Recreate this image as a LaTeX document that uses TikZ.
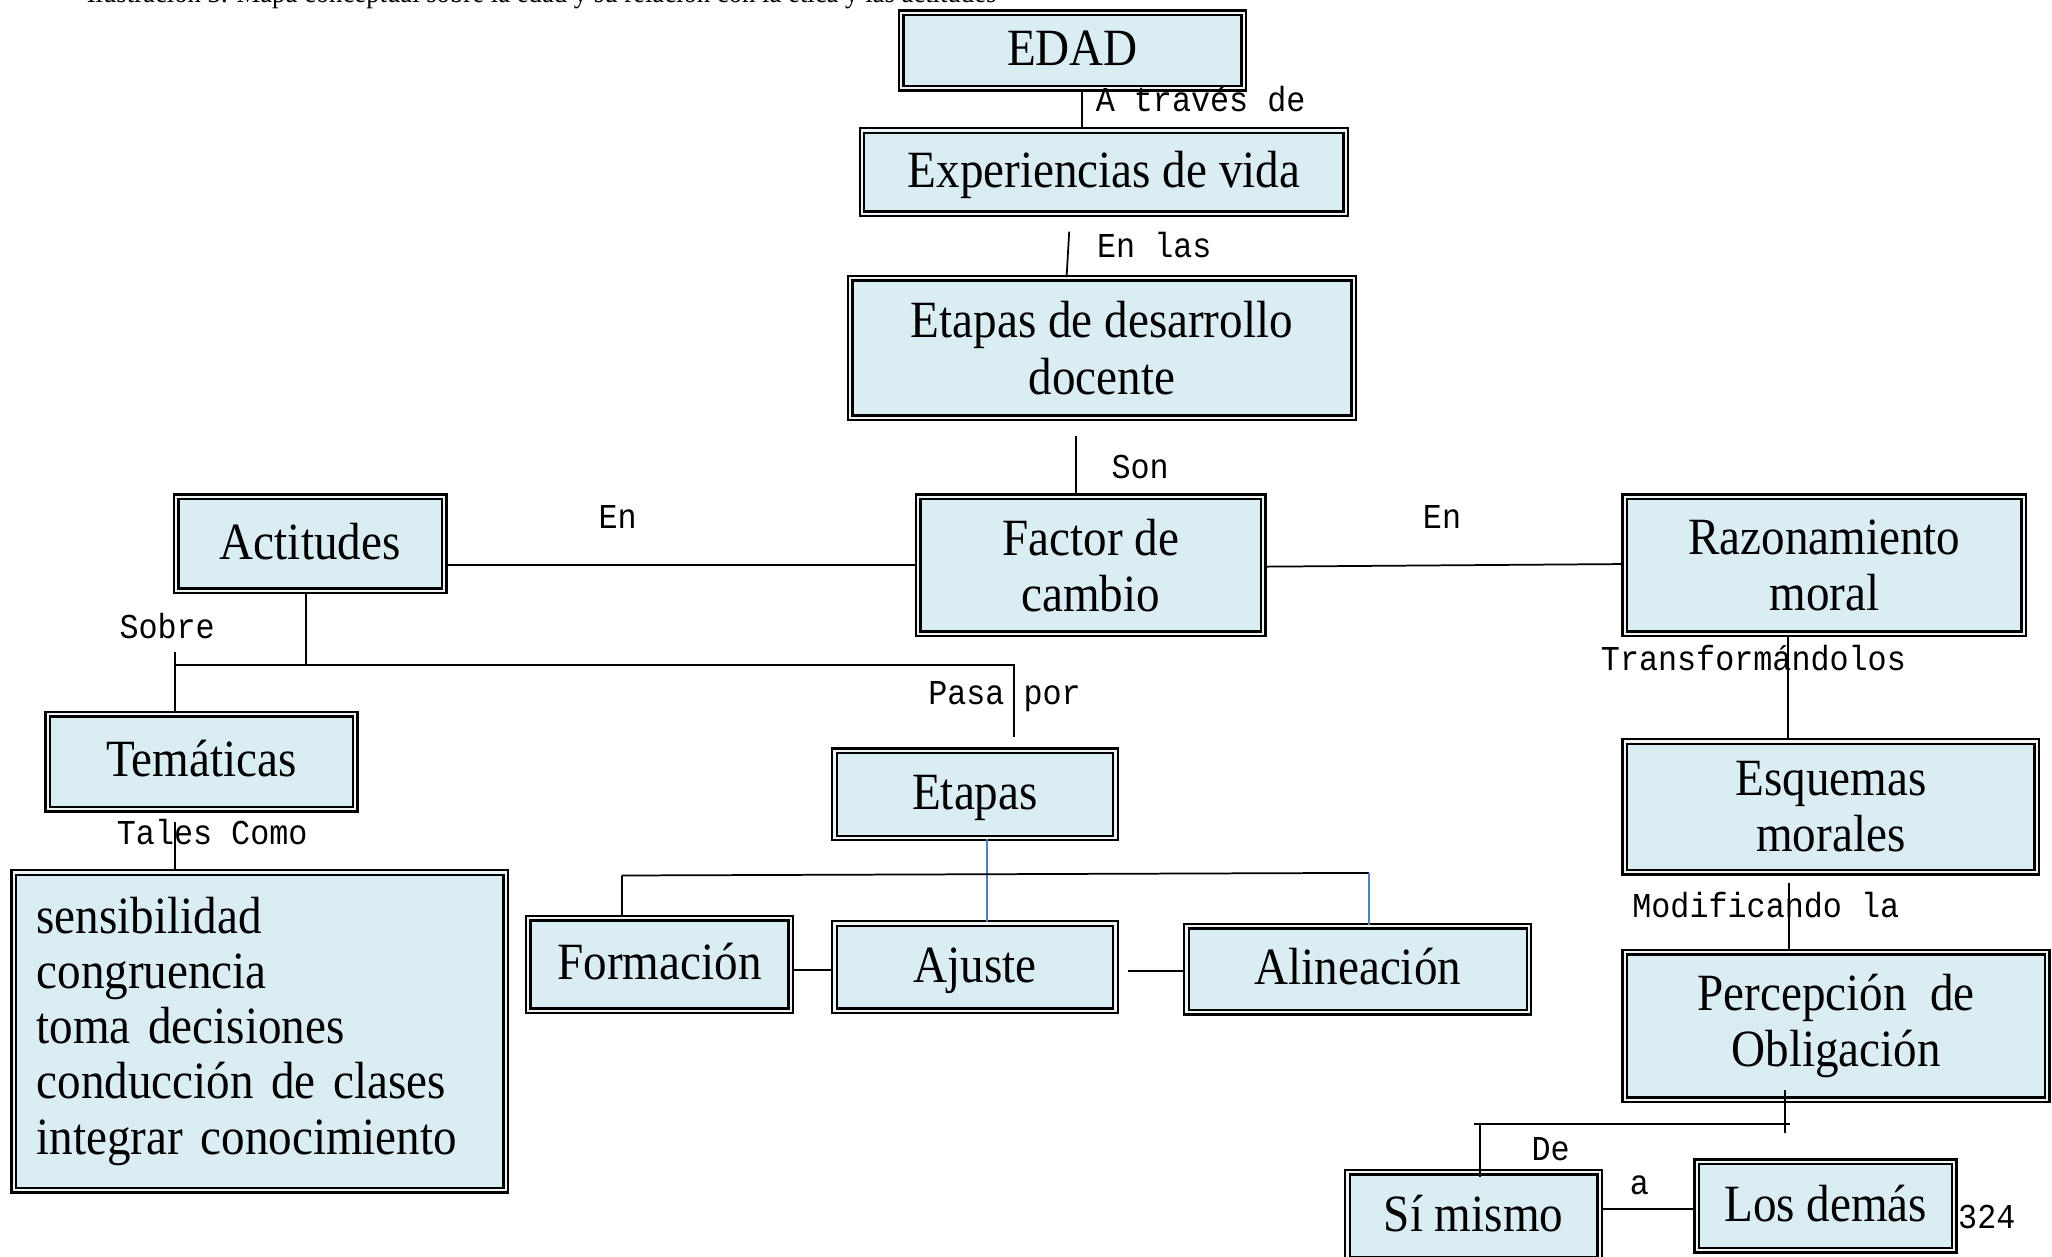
\documentclass[tikz,border=0pt]{standalone}
\usepackage{fontspec}
\setmainfont{Liberation Serif}[FakeStretch=0.9]
\setmonofont{Liberation Mono}[FakeStretch=0.91]
\definecolor{boxfill}{HTML}{DAEDF3}
\definecolor{gapfill}{HTML}{EEF5F7}
\definecolor{linkblue}{HTML}{4F81BD}

\tikzset{
  concept/.style={draw=black, line width=1.1pt, double=gapfill, double distance=1pt,
    fill=boxfill, inner sep=0pt, align=center,
    font=\fontsize{24}{25.8}\selectfont},
  oneline/.style={text height=20pt, text depth=6pt},
  boxsize/.style 2 args={minimum width=#1*0.6pt-3.2pt, minimum height=#2*0.6pt-3.2pt},
  conn/.style={draw=black, line width=0.8pt},
  blueconn/.style={draw=linkblue, line width=0.7pt},
  lbl/.style={font=\ttfamily\fontsize{16}{18}\selectfont, inner sep=0pt, anchor=base west},
}

\begin{document}
\begin{tikzpicture}[x=0.6pt, y=-0.6pt]
\useasboundingbox (0,0) rectangle (1568,960);

% caption line, partly above the page edge
\node[anchor=base west, inner sep=0pt, font=\fontsize{13.6}{15}\selectfont] (cap) at (66,2)
  {Ilustración 3. Mapa conceptual sobre la edad y su relación con la ética y las actitudes};

% concept boxes
\node[concept, oneline, boxsize={267}{63}]  (edad) at (819.5,38.5) {EDAD};
\node[concept, oneline, boxsize={375}{69}]  (exp)  at (843.5,131.5) {Experiencias de vida};
\node[concept, boxsize={390}{112}] (etd)  at (842,266) {Etapas de desarrollo\\docente};
\node[concept, oneline, boxsize={210}{77}]  (act)  at (237,415.5) {Actitudes};
\node[concept, boxsize={269}{110}] (fac)  at (833.5,432) {Factor de\\cambio};
\node[concept, boxsize={310}{110}] (raz)  at (1394,432) {Razonamiento\\moral};
\node[concept, oneline, boxsize={240}{78}]  (tem)  at (154,582) {Temáticas};
\node[concept, oneline, boxsize={220}{72}]  (eta)  at (745,607) {Etapas};
\node[concept, boxsize={320}{105}] (esq)  at (1399,616.5) {Esquemas\\morales};
\node[concept, oneline, boxsize={206}{76}]  (for)  at (504,737) {Formación};
\node[concept, oneline, boxsize={220}{72}]  (aju)  at (745,739) {Ajuste};
\node[concept, oneline, boxsize={267}{71}]  (ali)  at (1037.5,740.5) {Alineación};
\node[concept, boxsize={381}{248}, align=left, inner xsep=10.4pt, text width=204.6pt,
      font=\fontsize{24}{25.3}\selectfont] (lst) at (198.5,788)
  {sensibilidad\\congruencia\\toma decisiones\\conducción de clases\\integrar conocimiento};
\node[concept, boxsize={328}{118}] (per)  at (1403,784) {Percepción\ \ de\\Obligación};
\node[concept, oneline, boxsize={198}{72}]  (sim)  at (1126,929) {Sí mismo};
\node[concept, oneline, boxsize={202}{73}]  (los)  at (1395,921.5) {Los demás};

% link words
\node[lbl] (l1)  at (837,85)   {A través de};
\node[lbl] (l2)  at (838,197)  {En las};
\node[lbl] (l3)  at (849,366)  {Son};
\node[lbl] (l4)  at (457,404)  {En};
\node[lbl] (l5)  at (1087,404) {En};
\node[lbl] (l6)  at (91,488)   {Sobre};
\node[lbl] (l7)  at (709,538)  {Pasa por};
\node[lbl] (l8)  at (89,645)   {Tales Como};
\node[lbl] (l9)  at (1223,512) {Transformándolos};
\node[lbl] (l10) at (1247,701) {Modificando la};
\node[lbl] (l11) at (1170,887) {De};
\node[lbl] (l12) at (1245,913) {a};
\node[lbl] (pg)  at (1496,939) {324};

% helper points for the connectors
\coordinate (xA) at (827,0);
\coordinate (b1) at (817,177);
\coordinate (xB) at (815,0);
\coordinate (b2) at (822,333);
\coordinate (yC) at (0,432);
\coordinate (yD1) at (0,433);
\coordinate (yD2) at (0,431);
\coordinate (j0) at (134,508);
\coordinate (j1) at (234,508);
\coordinate (j2) at (775,508);
\coordinate (j3) at (775,563);
\coordinate (t0) at (134,498);
\coordinate (t1) at (134,628);
\coordinate (xE) at (754,0);
\coordinate (h1) at (475,669);
\coordinate (h2) at (1046,667);
\coordinate (yF) at (0,741);
\coordinate (p3) at (862,742);
\coordinate (xG) at (1366,0);
\coordinate (m1) at (1367,675);
\coordinate (q1) at (1364,833);
\coordinate (q2) at (1364,866);
\coordinate (k0) at (1126,859);
\coordinate (k1) at (1368,859);
\coordinate (k2) at (1131,859);
\coordinate (k3) at (1131,899);
\coordinate (yH) at (0,924);

% connectors
\draw[conn] (edad.south -| xA) -- (exp.north -| xA);
\draw[conn] (b1) -- (etd.north -| xB);
\draw[conn] (b2) -- (b2 |- fac.north);
\draw[conn] (act.east |- yC) -- (fac.west |- yC);
\draw[conn] (fac.east |- yD1) -- (raz.west |- yD2);
\draw[conn] (act.south -| j1) -- (j1);
\draw[conn] (j0) -- (j2) -- (j3);
\draw[conn] (t0) -- (tem.north -| t0);
\draw[conn] (t1) -- (lst.north -| t1);
\draw[blueconn] (eta.south -| xE) -- (aju.north -| xE);
\draw[conn] (h1) -- (h2);
\draw[conn] (h1) -- (for.north -| h1);
\draw[blueconn] (h2) -- (ali.north -| h2);
\draw[conn] (for.east |- yF) -- (aju.west |- yF);
\draw[conn] (p3) -- (ali.west |- p3);
\draw[conn] (raz.south -| xG) -- (esq.north -| xG);
\draw[conn] (m1) -- (per.north -| m1);
\draw[conn] (q1) -- (q2);
\draw[conn] (k0) -- (k1);
\draw[conn] (k2) -- (k3);
\draw[conn] (sim.east |- yH) -- (los.west |- yH);
\end{tikzpicture}
\end{document}
